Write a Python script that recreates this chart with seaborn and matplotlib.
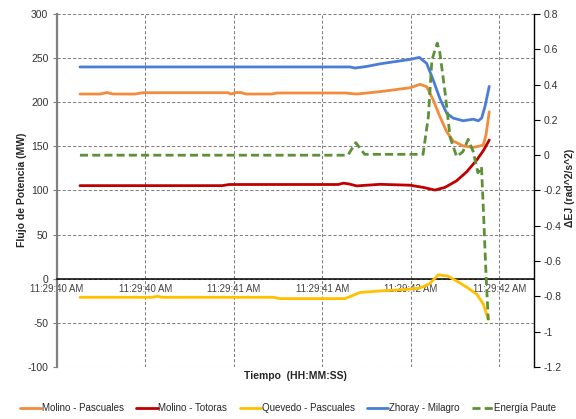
import matplotlib
matplotlib.use("Agg")
import matplotlib.pyplot as plt
from matplotlib.lines import Line2D
import seaborn as sns

# Category tick labels (one per major tick)
tick_labels = ["11:29:40 AM", "11:29:40 AM", "11:29:41 AM",
               "11:29:41 AM", "11:29:42 AM", "11:29:42 AM"]

# Time in tick-interval units, one list per series
t_pascuales = [0.263, 0.489, 0.568, 0.636, 0.885, 0.975, 1.936, 1.969, 2.026, 2.082,
               2.139, 2.433, 2.489, 3.258, 3.39, 3.653, 3.992, 4.105, 4.181, 4.255,
               4.331, 4.407, 4.481, 4.594, 4.707, 4.782, 4.82, 4.851, 4.888]
molino_pascuales = [209.3, 209.3, 211.0, 209.3, 209.3, 210.8, 210.8, 209.3, 211.0, 211.0,
                    209.3, 209.3, 210.5, 210.5, 209.3, 212.0, 216.4, 220.3, 217.6, 202.5,
                    183.6, 166.6, 156.0, 150.4, 148.9, 150.4, 151.5, 162.8, 189.2]

t_totoras = [0.263, 1.87, 1.95, 3.18, 3.24, 3.30, 3.39, 3.653, 3.992, 4.142,
             4.274, 4.387, 4.519, 4.633, 4.746, 4.82, 4.888]
molino_totoras = [105.5, 105.5, 106.8, 106.8, 108.3, 107.5, 105.2, 107.0, 106.0, 103.5,
                  100.5, 103.5, 111.0, 121.2, 134.5, 145.0, 157.2]

t_quevedo = [0.263, 1.08, 1.136, 1.19, 2.45, 2.52, 3.258, 3.427, 3.653, 3.955,
             4.105, 4.215, 4.312, 4.42, 4.519, 4.633, 4.746, 4.82, 4.877]
quevedo_pascuales = [-21.0, -21.0, -19.8, -21.0, -21.0, -22.5, -22.5, -15.6, -13.8, -12.0,
                     -10.5, -5.5, 4.5, 3.0, -2.5, -9.5, -17.5, -28.5, -46.0]

t_zhoray = [0.263, 3.314, 3.371, 3.50, 3.653, 3.82, 3.992, 4.097, 4.181, 4.255,
            4.331, 4.407, 4.481, 4.594, 4.707, 4.764, 4.802, 4.839, 4.888]
zhoray_milagro = [240.0, 240.0, 238.8, 240.5, 243.5, 246.0, 248.5, 250.8, 244.0, 225.0,
                  204.0, 187.5, 182.0, 179.0, 180.8, 179.0, 182.0, 195.0, 218.0]

t_paute = [0.263, 3.29, 3.38, 3.48, 4.14, 4.20, 4.24, 4.30, 4.33, 4.39,
           4.446, 4.52, 4.59, 4.65, 4.707, 4.76, 4.80, 4.82, 4.851, 4.877]
energia_paute = [0.0, 0.0, 0.071, 0.005, 0.005, 0.22, 0.54, 0.635, 0.58, 0.35,
                 0.10, -0.008, 0.02, 0.09, 0.02, -0.10, -0.065, -0.29, -0.67, -0.934]

series_names = ["Molino - Pascuales", "Molino - Totoras", "Quevedo - Pascuales",
                "Zhoray - Milagro", "Energía Paute"]
colors = ["#F28C3C", "#C00000", "#FFC000", "#4A7DD6", "#5E9137"]
paute_dash = (0, (2.9, 1.5))

sns.set_style("white")
plt.rcParams["font.family"] = ["Liberation Sans", "DejaVu Sans"]
plt.rcParams["axes.unicode_minus"] = False

fig = plt.figure(figsize=(5.76, 4.19), dpi=100)
ax = fig.add_axes([0.0984, 0.1241, 0.8286, 0.8425])

lw = 2.0
left_series = [(t_pascuales, molino_pascuales), (t_totoras, molino_totoras),
               (t_quevedo, quevedo_pascuales), (t_zhoray, zhoray_milagro)]
for (tx, vy), c in zip(left_series, colors[:4]):
    sns.lineplot(x=tx, y=vy, ax=ax, color=c, linewidth=lw, errorbar=None,
                 legend=False, zorder=3)

ax.set_xlim(0, 5.393)
ax.set_ylim(-100, 300)
ax.set_yticks(range(-100, 301, 50))
ax.set_xticks(range(len(tick_labels)))
ax.set_xticklabels(tick_labels)
ax.grid(True, linestyle=(0, (3, 2)), color="#808080", linewidth=0.75)
ax.set_axisbelow(True)

for s in ["top", "right"]:
    ax.spines[s].set_visible(False)
ax.spines["bottom"].set_position(("data", 0))
ax.spines["bottom"].set_color("black")
ax.spines["bottom"].set_linewidth(1.1)
ax.spines["left"].set_color("#808080")
ax.spines["left"].set_linewidth(1.6)
ax.tick_params(axis="x", length=0, pad=3.5, labelsize=6.9, labelcolor="#404040")
ax.tick_params(axis="y", length=3, width=0.8, color="#808080", pad=3,
               labelsize=7.5, labelcolor="#333333")
ax.set_xlabel("")
ax.set_ylabel("")

ax2 = ax.twinx()
sns.lineplot(x=t_paute, y=energia_paute, ax=ax2, color=colors[4], linewidth=lw,
             linestyle=paute_dash, errorbar=None, legend=False)
ax2.set_ylim(-1.2, 0.8)
yt2 = [-1.2, -1.0, -0.8, -0.6, -0.4, -0.2, 0.0, 0.2, 0.4, 0.6, 0.8]
ax2.set_yticks(yt2)
ax2.set_yticklabels([f"{v:g}" for v in yt2])
for s in ["top", "left", "bottom"]:
    ax2.spines[s].set_visible(False)
ax2.spines["right"].set_color("black")
ax2.spines["right"].set_linewidth(1.0)
ax2.tick_params(axis="y", length=4, width=0.8, color="black", pad=3,
                labelsize=7.5, labelcolor="#333333")
ax2.set_ylabel("")
ax2.grid(False)

fig.text(22 / 576, 1 - 190 / 419, "Flujo de Potencia (MW)", rotation=90,
         ha="center", va="center", fontsize=7.5, fontweight="bold")
fig.text(570 / 576, 1 - 188 / 419, "ΔEJ (rad^2/s^2)", rotation=90,
         ha="center", va="center", fontsize=7.5, fontweight="bold")
fig.text(295 / 576, 1 - 376 / 419, "Tiempo  (HH:MM:SS)",
         ha="center", va="center", fontsize=7.5, fontweight="bold")

handles = [Line2D([], [], color=c, linewidth=lw) for c in colors[:4]]
handles.append(Line2D([], [], color=colors[4], linewidth=lw, linestyle=paute_dash))
fig.legend(handles, series_names, loc="center", bbox_to_anchor=(0.5, 1 - 408 / 419),
           ncol=5, frameon=False, fontsize=7.0, handlelength=2.2,
           handletextpad=0.1, columnspacing=1.25, borderaxespad=0)

fig.savefig("out.png", dpi=100)
